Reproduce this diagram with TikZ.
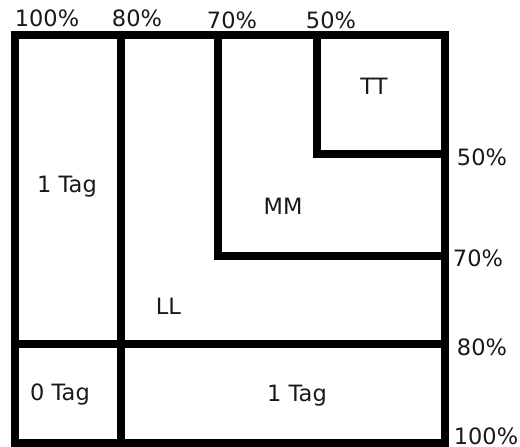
\documentclass[tikz,border=0pt]{standalone}
\usepackage{fontspec}
\setmainfont{DejaVu Sans}
\begin{document}
\begin{tikzpicture}[x=1pt,y=-1pt,
  wall/.style={line width=8pt, black},
  lbl/.style={anchor=base, inner sep=0pt, font=\fontsize{22.5}{24}\selectfont, text=black!90}]
\useasboundingbox (0,0) rectangle (520,447);
% partition lines
\draw[wall] (15,35) rectangle (445,443);
\draw[wall] (121,35) -- (121,443);
\draw[wall] (15,344) -- (445,344);
\draw[wall] (218,35) -- (218,256) -- (445,256);
\draw[wall] (317,35) -- (317,154) -- (445,154);
% top percentages
\node[lbl] (t100) at (47,26) {100\%};
\node[lbl] (t80) at (137,26) {80\%};
\node[lbl] (t70) at (232,28) {70\%};
\node[lbl] (t50) at (331,28) {50\%};
% right percentages
\node[lbl] (r50) at (482,165) {50\%};
\node[lbl] (r70) at (478,266) {70\%};
\node[lbl] (r80) at (482,355) {80\%};
\node[lbl] (r100) at (486,444) {100\%};
% region labels
\node[lbl] (tt) at (374,94) {TT};
\node[lbl] (tag1a) at (67,192) {1 Tag};
\node[lbl] (mm) at (283,214) {MM};
\node[lbl] (ll) at (168.5,314) {LL};
\node[lbl] (tag0) at (60,400) {0 Tag};
\node[lbl] (tag1b) at (297,401) {1 Tag};
\end{tikzpicture}
\end{document}
